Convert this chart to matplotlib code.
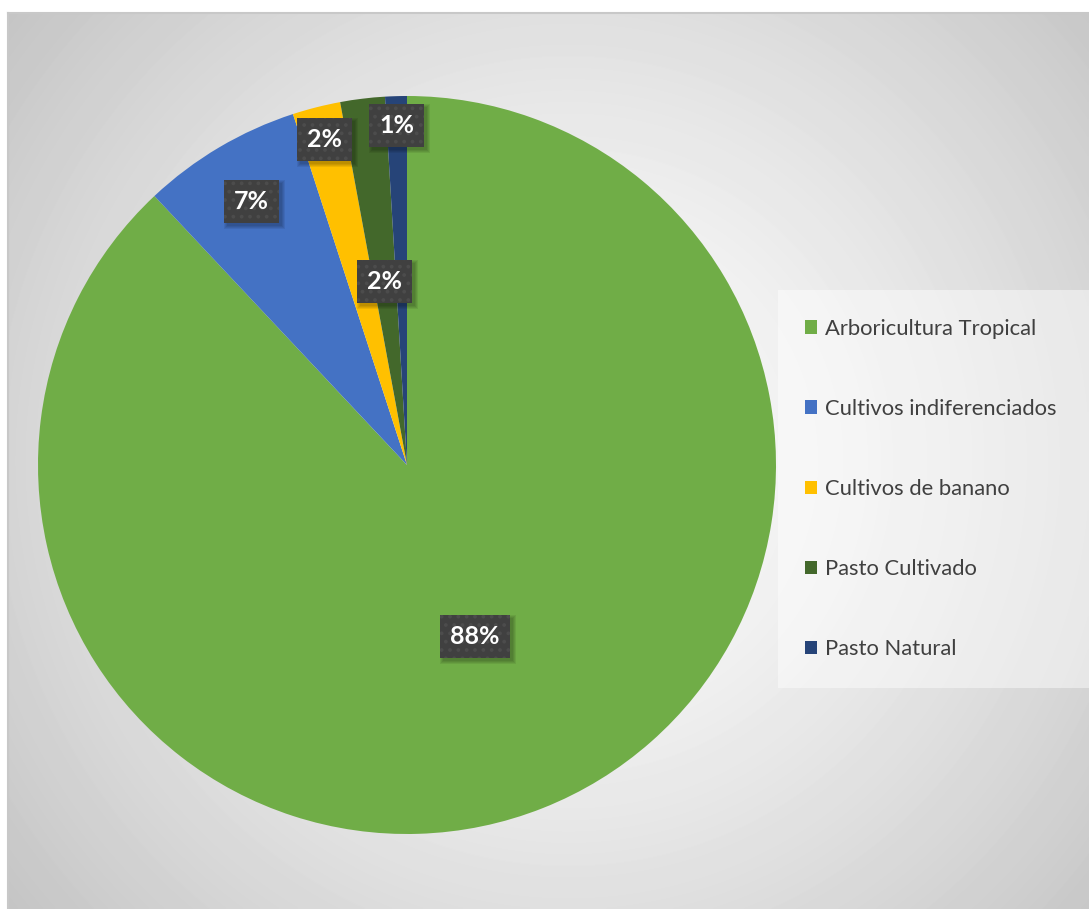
import numpy as np
import matplotlib.pyplot as plt
from matplotlib.patches import Rectangle
from matplotlib.transforms import IdentityTransform

categories = ['Arboricultura Tropical', 'Cultivos indiferenciados', 'Cultivos de banano',
              'Pasto Cultivado', 'Pasto Natural']
shares = [88.0, 7.0, 2.1, 1.95, 0.95]
pct_labels = ['88%', '7%', '2%', '2%', '1%']
colors = ['#70AD47', '#4472C4', '#FFC000', '#43682B', '#264478']
label_dist = [0.5, 0.83, 0.91, 0.5, 0.92]

plt.rcParams['font.family'] = ['Lato', 'DejaVu Sans']
plt.rcParams['hatch.linewidth'] = 1.5

W, H = 1089, 909
fig = plt.figure(figsize=(W / 100, H / 100), dpi=100)

# chart area with radial gradient
bg = fig.add_axes([8 / W, 0, 1 - 8 / W, 1 - 13 / H])
yy, xx = np.mgrid[0:896, 0:1081]
r = np.hypot(xx - 560, yy - 448) / np.hypot(560, 448)
img = 1 - 0.23 * r ** 1.3
bg.imshow(img, cmap='gray', vmin=0, vmax=1, aspect='auto', interpolation='bilinear')
bg.set_xticks([])
bg.set_yticks([])
for s in ['right', 'bottom']:
    bg.spines[s].set_visible(False)
for s in ['top', 'left']:
    bg.spines[s].set_color('#C8C8C8')
    bg.spines[s].set_linewidth(1.5)

# pie
cx, cy, R = 407, 465, 369
ax = fig.add_axes([(cx - R) / W, (H - cy - R) / H, 2 * R / W, 2 * R / H])
wedges, _ = ax.pie(shares, colors=colors, startangle=90, counterclock=False,
                   radius=1, wedgeprops=dict(linewidth=0))
ax.set_xlim(-1, 1)
ax.set_ylim(-1, 1)

texts = []
for w, lab, d in zip(wedges, pct_labels, label_dist):
    ang = np.deg2rad((w.theta1 + w.theta2) / 2)
    t = ax.text(d * np.cos(ang), d * np.sin(ang), lab, ha='center', va='center',
                color='white', fontsize=18, fontweight='bold', zorder=5,
                bbox=dict(boxstyle='square,pad=0.4', facecolor='#404040',
                          edgecolor='#4C4C4C', linewidth=0, hatch='..'))
    texts.append(t)

# soft drop shadow under the label boxes
fig.canvas.draw()
for t in texts:
    bb = t.get_bbox_patch().get_window_extent()
    for k in range(4):
        ax.add_patch(Rectangle((bb.x0 + 3 - k, bb.y0 - 3 - k), bb.width + 2 * k, bb.height + 2 * k,
                               transform=IdentityTransform(), facecolor='black',
                               alpha=0.07, edgecolor='none', zorder=4))

# legend
fig.patches.append(Rectangle((778 / W, 1 - 688 / H), (W - 778) / W, 398 / H,
                             transform=fig.transFigure, facecolor='white',
                             alpha=0.45, edgecolor='none', zorder=1))
fig.legend(wedges, categories, loc='center left', bbox_to_anchor=(805 / W, 1 - 489 / H),
           frameon=False, fontsize=15.8, labelcolor='#404040', handlelength=0.55,
           handleheight=0.55, handletextpad=0.35, labelspacing=2.74,
           borderaxespad=0, borderpad=0)

fig.savefig('out.png', dpi=100)
